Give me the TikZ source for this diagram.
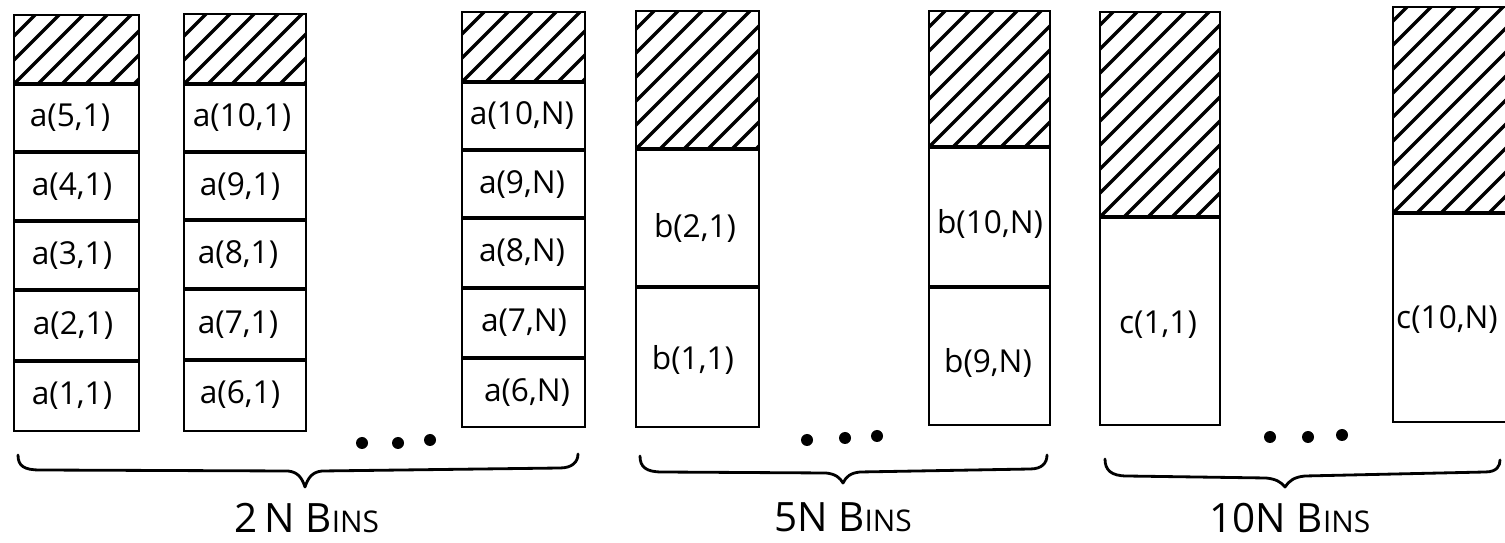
\documentclass[tikz,border=0pt]{standalone}
\usepackage{fontspec}
\setmainfont{Open Sans}
\begin{document}
\begin{tikzpicture}[x=0.02cm,y=-0.02cm,
  binline/.style={line width=1.1pt},
  sepline/.style={line width=1.8pt},
  hatchline/.style={line width=2pt, line cap=round},
  brace/.style={line width=1.6pt, line cap=round, line join=round},
  cell/.style={font=\fontsize{18}{22}\selectfont, inner sep=0pt},
  caption/.style={font=\fontsize{23}{26}\selectfont, inner sep=0pt}]
\useasboundingbox (0,0) rectangle (1505,543);

% diagonal hatching of the unused top of a bin: x0, x1, ytop, ybottom
\newcommand\binhatch[4]{%
  \begin{scope}
    \clip (#1,#3) rectangle (#2,#4);
    \foreach \k in {-10,...,6} {\draw[hatchline] ({#1+\k*24},#4) -- ++(400,-400);}
  \end{scope}}
\newcommand\smallcaps[1]{{\fontsize{17}{20}\selectfont #1}}

% ---- a-bins: five cells under a hatched cap ----
\binhatch{14}{139}{15}{84}
\draw[binline] (14,15) rectangle (139,431);
\foreach \y in {84,152,221,290,361} \draw[sepline] (14,\y) -- (139,\y);
\node[cell] (a51) at (70,118) {a(5,1)};
\node[cell] (a41) at (72,187) {a(4,1)};
\node[cell] (a31) at (72,256) {a(3,1)};
\node[cell] (a21) at (73,326) {a(2,1)};
\node[cell] (a11) at (72,396) {a(1,1)};

\binhatch{184}{306}{14}{84}
\draw[binline] (184,14) rectangle (306,431);
\foreach \y in {84,152,220,289,360} \draw[sepline] (184,\y) -- (306,\y);
\node[cell] (a101) at (242,118) {a(10,1)};
\node[cell] (a91) at (240,187) {a(9,1)};
\node[cell] (a81) at (238,255) {a(8,1)};
\node[cell] (a71) at (238,325) {a(7,1)};
\node[cell] (a61) at (240,395) {a(6,1)};

\binhatch{462}{585}{12}{82}
\draw[binline] (462,12) rectangle (585,427);
\foreach \y in {82,150,218,288,358} \draw[sepline] (462,\y) -- (585,\y);
\node[cell] (a10N) at (522,116) {a(10,N)};
\node[cell] (a9N) at (522,185) {a(9,N)};
\node[cell] (a8N) at (522,253) {a(8,N)};
\node[cell] (a7N) at (524,323) {a(7,N)};
\node[cell] (a6N) at (527,393) {a(6,N)};

\fill (362,443) circle (6) (398,443) circle (6) (430,440) circle (6);

% ---- b-bins: two cells ----
\binhatch{636}{759}{11}{149}
\draw[binline] (636,11) rectangle (759,427);
\foreach \y in {149,287} \draw[sepline] (636,\y) -- (759,\y);
\node[cell] (b21) at (695,228) {b(2,1)};
\node[cell] (b11) at (693,360) {b(1,1)};

\binhatch{929}{1050}{11}{147}
\draw[binline] (929,11) rectangle (1050,425);
\foreach \y in {147,287} \draw[sepline] (929,\y) -- (1050,\y);
\node[cell] (b10N) at (990,224) {b(10,N)};
\node[cell] (b9N) at (988,363) {b(9,N)};

\fill (807,440) circle (6) (845,438) circle (6) (877,436) circle (6);

% ---- c-bins: one cell ----
\binhatch{1100}{1220}{12}{217}
\draw[binline] (1100,12) rectangle (1220,425);
\draw[sepline] (1100,217) -- (1220,217);
\node[cell] (c11) at (1158,325) {c(1,1)};

\binhatch{1393}{1512}{7}{213}
\draw[binline] (1393,7) rectangle (1512,422);
\draw[sepline] (1393,213) -- (1512,213);
\node[cell] (c10N) at (1447,320) {c(10,N)};

\fill (1270,437) circle (6) (1308,437) circle (6) (1342,435) circle (6);

% ---- braces and captions ----
\draw[brace] (18,455) .. controls (18,466) and (24,470) .. (40,470)
  -- (288,471) .. controls (298,472) and (302,478) .. (305,487)
  .. controls (308,478) and (312,472) .. (322,471)
  -- (560,468) .. controls (572,468) and (578,462) .. (578,454);
\node[caption] (lab2N) at (307,518) {2\,N B\smallcaps{INS}};

\draw[brace] (640,456) .. controls (640,467) and (646,472) .. (662,472)
  -- (826,473) .. controls (836,474) and (840,478) .. (843,483)
  .. controls (846,477) and (850,473) .. (860,472)
  -- (1030,469) .. controls (1042,469) and (1047,463) .. (1047,455);
\node[caption] (lab5N) at (843,517) {5N B\smallcaps{INS}};

\draw[brace] (1105,459) .. controls (1105,470) and (1111,476) .. (1127,476)
  -- (1266,478) .. controls (1276,479) and (1281,482) .. (1285,487)
  .. controls (1289,481) and (1294,477) .. (1305,476)
  -- (1485,472) .. controls (1497,472) and (1500,466) .. (1500,460);
\node[caption] (lab10N) at (1290,518) {10N B\smallcaps{INS}};
\end{tikzpicture}
\end{document}
